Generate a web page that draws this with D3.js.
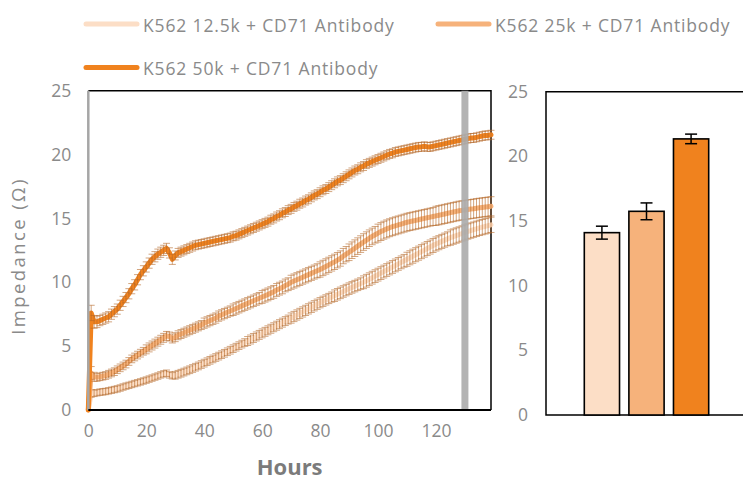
<!DOCTYPE html>
<html><head><meta charset="utf-8">
<script src="https://cdn.jsdelivr.net/npm/d3@7"></script>
<style>
html,body{margin:0;padding:0;background:#fff;overflow:hidden}
svg{display:block;font-family:"Open Sans",sans-serif}
</style></head>
<body>
<svg id="c" width="743" height="481"></svg>
<script>
const seriesNames = ["K562 12.5k + CD71 Antibody","K562 25k + CD71 Antibody","K562 50k + CD71 Antibody"];
const seriesColors = ["#fcdec6","#f6b27b","#f0821e"];
const hours = [0,1,2,3,4,5,6,7,8,9,10,11,12,13,14,15,16,17,18,19,20,21,22,23,24,25,26,27,28,29,30,31,32,33,34,35,36,37,38,39,40,41,42,43,44,45,46,47,48,49,50,51,52,53,54,55,56,57,58,59,60,61,62,63,64,65,66,67,68,69,70,71,72,73,74,75,76,77,78,79,80,81,82,83,84,85,86,87,88,89,90,91,92,93,94,95,96,97,98,99,100,101,102,103,104,105,106,107,108,109,110,111,112,113,114,115,116,117,118,119,120,121,122,123,124,125,126,127,128,129,130,131,132,133,134,135,136,137,138,139];
const v12 = [0,1.3,1.3,1.35,1.4,1.42,1.45,1.5,1.55,1.6,
1.65,1.72,1.8,1.87,1.93,2.0,2.07,2.13,2.2,2.27,
2.34,2.42,2.5,2.58,2.66,2.75,2.83,2.88,2.75,2.68,
2.72,2.8,2.88,2.97,3.06,3.15,3.25,3.35,3.45,3.56,
3.67,3.78,3.89,4.0,4.11,4.22,4.33,4.44,4.56,4.68,
4.8,4.92,5.04,5.16,5.28,5.4,5.52,5.64,5.76,5.88,
6.0,6.12,6.24,6.36,6.48,6.6,6.72,6.84,6.96,7.08,
7.2,7.32,7.44,7.56,7.68,7.8,7.92,8.04,8.16,8.28,
8.4,8.51,8.62,8.73,8.84,8.95,9.06,9.17,9.28,9.39,
9.5,9.6,9.7,9.8,9.9,10.0,10.12,10.24,10.36,10.48,
10.6,10.72,10.84,10.96,11.08,11.2,11.32,11.44,11.56,11.68,
11.8,11.92,12.04,12.16,12.28,12.4,12.52,12.64,12.76,12.88,
13.0,13.1,13.2,13.3,13.4,13.5,13.58,13.66,13.74,13.82,
13.9,13.98,14.05,14.12,14.19,14.26,14.32,14.38,14.44,14.5];
const v25 = [0,2.9,2.6,2.55,2.6,2.65,2.7,2.8,2.9,3.0,
3.15,3.3,3.45,3.6,3.8,4.0,4.15,4.3,4.45,4.6,
4.75,4.9,5.05,5.2,5.35,5.5,5.65,5.8,5.75,5.6,
5.7,5.85,5.95,6.05,6.15,6.25,6.35,6.45,6.55,6.65,
6.8,6.9,7.0,7.1,7.2,7.35,7.45,7.55,7.65,7.75,
7.85,7.95,8.05,8.15,8.25,8.35,8.45,8.55,8.65,8.75,
8.85,8.95,9.05,9.15,9.25,9.4,9.5,9.6,9.75,9.85,
10.0,10.1,10.2,10.3,10.4,10.5,10.6,10.7,10.8,10.9,
11.0,11.12,11.24,11.36,11.48,11.6,11.73,11.86,12.05,12.2,
12.35,12.51,12.67,12.83,12.99,13.15,13.3,13.45,13.59,13.72,
13.85,13.97,14.08,14.18,14.27,14.35,14.42,14.49,14.56,14.63,
14.7,14.75,14.8,14.85,14.9,14.95,15.0,15.05,15.1,15.15,
15.2,15.25,15.3,15.35,15.4,15.45,15.5,15.55,15.6,15.63,
15.66,15.7,15.73,15.76,15.8,15.83,15.86,15.89,15.92,15.95];
const v50 = [0,7.6,6.9,6.9,7.0,7.1,7.2,7.3,7.5,7.7,
7.9,8.2,8.5,8.8,9.1,9.5,9.8,10.2,10.6,10.9,
11.2,11.5,11.8,12.0,12.2,12.35,12.5,12.65,12.3,11.8,
12.1,12.3,12.4,12.5,12.6,12.7,12.8,12.9,12.95,13.0,
13.05,13.1,13.15,13.2,13.25,13.3,13.35,13.4,13.45,13.5,
13.6,13.65,13.75,13.85,13.95,14.05,14.15,14.25,14.35,14.45,
14.55,14.65,14.75,14.9,15.0,15.15,15.25,15.4,15.5,15.65,
15.75,15.9,16.0,16.15,16.25,16.4,16.5,16.65,16.8,16.9,
17.05,17.2,17.3,17.45,17.6,17.75,17.9,18.0,18.15,18.3,
18.45,18.6,18.75,18.85,19.0,19.1,19.25,19.35,19.45,19.55,
19.65,19.75,19.85,19.95,20.05,20.1,20.2,20.25,20.3,20.35,
20.4,20.45,20.5,20.55,20.6,20.6,20.65,20.6,20.6,20.65,
20.7,20.75,20.8,20.85,20.9,20.95,21.0,21.05,21.1,21.15,
21.2,21.25,21.3,21.3,21.35,21.4,21.45,21.5,21.5,21.55];
const e12 = [0,0.3,0.25,0.25,0.25,0.25,0.25,0.25,0.25,0.25,
0.25,0.25,0.25,0.25,0.25,0.25,0.25,0.25,0.25,0.25,
0.25,0.25,0.25,0.25,0.25,0.25,0.25,0.25,0.25,0.25,
0.3,0.3,0.3,0.3,0.3,0.3,0.3,0.3,0.3,0.3,
0.3,0.3,0.3,0.3,0.3,0.3,0.3,0.3,0.3,0.3,
0.3,0.3,0.3,0.3,0.3,0.35,0.35,0.35,0.35,0.35,
0.35,0.35,0.35,0.35,0.35,0.35,0.35,0.35,0.35,0.35,
0.4,0.4,0.4,0.4,0.4,0.4,0.4,0.4,0.4,0.4,
0.4,0.4,0.4,0.4,0.4,0.45,0.45,0.45,0.45,0.45,
0.45,0.45,0.45,0.45,0.45,0.5,0.5,0.5,0.5,0.5,
0.5,0.5,0.5,0.5,0.5,0.5,0.5,0.5,0.5,0.5,
0.55,0.55,0.55,0.55,0.55,0.55,0.55,0.55,0.55,0.55,
0.55,0.55,0.55,0.55,0.55,0.6,0.6,0.6,0.6,0.6,
0.6,0.6,0.6,0.6,0.6,0.6,0.6,0.6,0.6,0.6];
const e25 = [0,0.5,0.35,0.3,0.3,0.3,0.3,0.3,0.3,0.3,
0.3,0.3,0.3,0.3,0.3,0.3,0.3,0.3,0.3,0.3,
0.35,0.35,0.35,0.35,0.35,0.35,0.35,0.35,0.35,0.35,
0.35,0.35,0.35,0.35,0.35,0.35,0.35,0.35,0.35,0.35,
0.4,0.4,0.4,0.4,0.4,0.4,0.4,0.4,0.4,0.4,
0.45,0.45,0.45,0.45,0.45,0.45,0.45,0.45,0.45,0.45,
0.5,0.5,0.5,0.5,0.5,0.5,0.5,0.5,0.5,0.5,
0.55,0.55,0.55,0.55,0.55,0.55,0.55,0.55,0.55,0.55,
0.6,0.6,0.6,0.6,0.6,0.6,0.6,0.6,0.6,0.6,
0.65,0.65,0.65,0.65,0.65,0.65,0.65,0.65,0.65,0.65,
0.7,0.7,0.7,0.7,0.7,0.7,0.7,0.7,0.7,0.7,
0.7,0.7,0.7,0.7,0.7,0.7,0.7,0.7,0.7,0.7,
0.75,0.75,0.75,0.75,0.75,0.75,0.75,0.75,0.75,0.75,
0.75,0.75,0.75,0.75,0.75,0.75,0.75,0.75,0.75,0.75];
const e50 = [0,0.6,0.5,0.45,0.4,0.4,0.4,0.4,0.4,0.4,
0.4,0.4,0.4,0.4,0.4,0.4,0.4,0.4,0.4,0.4,
0.4,0.4,0.4,0.4,0.4,0.4,0.4,0.4,0.4,0.4,
0.35,0.35,0.35,0.35,0.35,0.35,0.35,0.35,0.35,0.35,
0.35,0.35,0.35,0.35,0.35,0.35,0.35,0.35,0.35,0.35,
0.35,0.35,0.35,0.35,0.35,0.35,0.35,0.35,0.35,0.35,
0.35,0.35,0.35,0.35,0.35,0.35,0.35,0.35,0.35,0.35,
0.35,0.35,0.35,0.35,0.35,0.35,0.35,0.35,0.35,0.35,
0.35,0.35,0.35,0.35,0.35,0.35,0.35,0.35,0.35,0.35,
0.35,0.35,0.35,0.35,0.35,0.35,0.35,0.35,0.35,0.35,
0.35,0.35,0.35,0.35,0.35,0.35,0.35,0.35,0.35,0.35,
0.35,0.35,0.35,0.35,0.35,0.35,0.35,0.35,0.35,0.35,
0.35,0.35,0.35,0.35,0.35,0.35,0.35,0.35,0.35,0.35,
0.35,0.35,0.35,0.35,0.35,0.35,0.35,0.35,0.35,0.35];
const markerHour = 130;
const barValues = [14.1, 15.75, 21.35];
const barErrors = [0.5, 0.65, 0.37];
const yTicks = [0,5,10,15,20,25];
const xTicks = [0,20,40,60,80,100,120];
const xTitle = "Hours";
const yTitle = "Impedance (Ω)";

const svg = d3.select("#c");
const textColor = "#8a8a8a";
const font = "\"Open Sans\",sans-serif";

// ---------- left line chart ----------
const x = d3.scaleLinear().domain([0,139]).range([88.3,491]);
const y = d3.scaleLinear().domain([0,25]).range([410,90.7]);
const series = [v12, v25, v50];
const errs = [e12, e25, e50];

svg.append("path").attr("d",`M${x(0)},${y(25)}H${x(139)}V${y(0)}`)
  .attr("fill","none").attr("stroke","#000").attr("stroke-width",1.5);

const line = d3.line().x((d,i)=>x(hours[i])).y(d=>y(d));
series.forEach((vals,k)=>{
  svg.append("path").datum(vals).attr("d",line)
    .attr("fill","none").attr("stroke",seriesColors[k]).attr("stroke-width",5)
    .attr("stroke-linejoin","round").attr("stroke-linecap","round");
  const g = svg.append("g").attr("stroke","#b5692a").attr("stroke-opacity",0.6).attr("stroke-width",1);
  vals.forEach((v,i)=>{
    const e = errs[k][i];
    if(!e) return;
    const cx = x(hours[i]);
    g.append("line").attr("x1",cx).attr("x2",cx).attr("y1",y(v-e)).attr("y2",y(v+e));
    g.append("line").attr("x1",cx-3.5).attr("x2",cx+3.5).attr("y1",y(v-e)).attr("y2",y(v-e));
    g.append("line").attr("x1",cx-3.5).attr("x2",cx+3.5).attr("y1",y(v+e)).attr("y2",y(v+e));
  });
});
svg.append("line").attr("x1",x(markerHour)).attr("x2",x(markerHour))
  .attr("y1",y(25)).attr("y2",y(0)).attr("stroke","#ababab").attr("stroke-width",7).attr("stroke-opacity",0.9);

svg.append("line").attr("x1",x(0)).attr("x2",x(0)).attr("y1",y(25)).attr("y2",y(0))
  .attr("stroke","#a6a6a6").attr("stroke-width",2.5);
svg.append("line").attr("x1",x(0)).attr("x2",x(139)).attr("y1",y(0)).attr("y2",y(0))
  .attr("stroke","#000").attr("stroke-width",2);

const yAxisL = d3.axisLeft(y).tickValues(yTicks).tickSize(0).tickPadding(17);
const gyl = svg.append("g").attr("transform",`translate(${x(0)},0)`).call(yAxisL);
gyl.select(".domain").remove();
gyl.selectAll("text").attr("fill",textColor).style("font-size","17.5px").style("font-family",font);

const xAxis = d3.axisBottom(x).tickValues(xTicks).tickSize(0).tickPadding(15);
const gx = svg.append("g").attr("transform",`translate(0,${y(0)})`).call(xAxis);
gx.select(".domain").remove();
gx.selectAll("text").attr("fill",textColor).style("font-size","17.5px").style("font-family",font);

svg.append("text").attr("x",(x(0)+x(139))/2).attr("y",475).attr("text-anchor","middle")
  .attr("fill","#7b7b7b").style("font-size","22px").style("font-weight","bold").style("font-family",font).text(xTitle);
svg.append("text").attr("transform",`translate(25,256) rotate(-90)`).attr("text-anchor","middle")
  .attr("fill",textColor).style("font-size","18.5px").style("letter-spacing","2.4px").style("font-family",font).text(yTitle);

// ---------- right bar chart ----------
const yb = d3.scaleLinear().domain([0,25]).range([415,91.7]);
const xb = d3.scaleBand().domain(seriesNames).range([584.3,708.7]).paddingInner(0.21).paddingOuter(0);
const bL = 546, bR = 780;
svg.append("path").attr("d",`M${bR},${yb(25)}H${bL}V${yb(0)}H${bR}`)
  .attr("fill","none").attr("stroke","#000").attr("stroke-width",1.5);
seriesNames.forEach((n,i)=>{
  svg.append("rect").attr("x",xb(n)).attr("width",xb.bandwidth())
    .attr("y",yb(barValues[i])).attr("height",yb(0)-yb(barValues[i]))
    .attr("fill",seriesColors[i]).attr("stroke","#000").attr("stroke-width",1.6);
  const cx = xb(n)+xb.bandwidth()/2;
  const g = svg.append("g").attr("stroke","#000").attr("stroke-width",1.5);
  g.append("line").attr("x1",cx).attr("x2",cx).attr("y1",yb(barValues[i]-barErrors[i])).attr("y2",yb(barValues[i]+barErrors[i]));
  [barValues[i]-barErrors[i], barValues[i]+barErrors[i]].forEach(v=>{
    g.append("line").attr("x1",cx-6).attr("x2",cx+6).attr("y1",yb(v)).attr("y2",yb(v));
  });
});
const yAxisR = d3.axisLeft(yb).tickValues(yTicks).tickSize(0).tickPadding(18);
const gyr = svg.append("g").attr("transform",`translate(${bL},0)`).call(yAxisR);
gyr.select(".domain").remove();
gyr.selectAll("text").attr("fill",textColor).style("font-size","17.5px").style("font-family",font);

// ---------- legend ----------
const legendPos = [[84,24],[436,24],[84,67.5]];
seriesNames.forEach((n,i)=>{
  const [lx,ly] = legendPos[i];
  svg.append("line").attr("x1",lx+2).attr("x2",lx+53).attr("y1",ly).attr("y2",ly)
    .attr("stroke",seriesColors[i]).attr("stroke-width",5).attr("stroke-linecap","round");
  svg.append("text").attr("x",lx+59).attr("y",ly+7.7).attr("fill",textColor)
    .style("font-size","17.5px").style("letter-spacing","0.85px").style("font-family",font).text(n);
});
</script>
</body></html>
